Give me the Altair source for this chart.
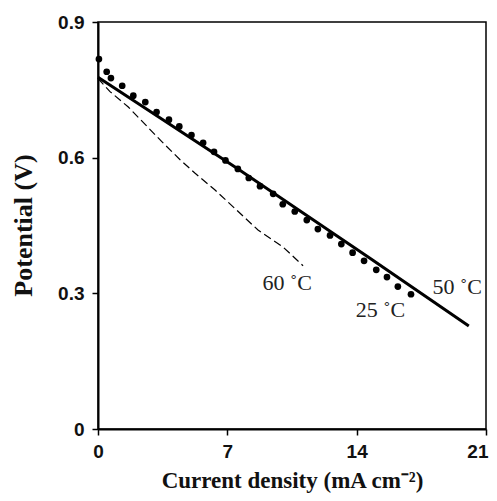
import altair as alt
import pandas as pd

# 25 °C measured points
dots_x = [0.05, 0.47, 0.7, 1.31, 1.91, 2.56, 3.17, 3.84, 4.40, 5.06, 5.69, 6.28, 6.9, 7.57,
          8.16, 8.77, 9.48, 10.0, 10.65, 11.3, 11.9, 12.56, 13.17, 13.78, 14.4, 15.06,
          15.64, 16.23, 16.94]
dots_v = [0.818, 0.790, 0.776, 0.759, 0.737, 0.723, 0.701, 0.684, 0.669, 0.650, 0.633,
          0.613, 0.594, 0.575, 0.555, 0.537, 0.520, 0.497, 0.481, 0.462, 0.442, 0.428,
          0.409, 0.390, 0.372, 0.352, 0.336, 0.315, 0.298]

# 50 °C solid line
solid_x = [0.0, 7.5, 14.7, 20.07]
solid_v = [0.778, 0.577, 0.378, 0.228]

# 60 °C dashed line
dash_x = [0.0, 0.65, 1.64, 3.44, 4.43, 5.24, 6.32, 7.4, 8.66, 10.0, 11.1]
dash_v = [0.775, 0.746, 0.712, 0.636, 0.596, 0.566, 0.529, 0.488, 0.440, 0.403, 0.361]

# curve labels
label_text = ["60 \u02daC", "25 \u02daC", "50 \u02daC"]
label_x = [8.9, 13.95, 18.1]
label_v = [0.323, 0.263, 0.315]

x_ticks = [0, 7, 14, 21]
y_ticks = [0, 0.3, 0.6, 0.9]

dots_df = pd.DataFrame({"x": dots_x, "v": dots_v})
solid_df = pd.DataFrame({"x": solid_x, "v": solid_v})
dash_df = pd.DataFrame({"x": dash_x, "v": dash_v})
lab_df = pd.DataFrame({"t": label_text, "x": label_x, "v": label_v})

xs = alt.Scale(domain=[0, 21], nice=False)
ys = alt.Scale(domain=[0, 0.9], nice=False)

xenc = alt.X("x:Q", scale=xs,
             axis=alt.Axis(values=x_ticks, title="Current density (mA cm\u207b\u00b2)",
                           titleFontSize=23, titleY=58, titleBaseline="alphabetic",
                           labelFlush=False,
                           labelAlign=alt.ExprRef(expr="datum.value == 21 ? 'right' : 'center'"),
                           labelOffset=alt.ExprRef(expr="datum.value == 21 ? 2 : 0")))
yenc = alt.Y("v:Q", scale=ys,
             axis=alt.Axis(values=y_ticks, title="Potential (V)",
                           titleFontSize=26, titleX=-75, titleY=203,
                           titleBaseline="middle", labelFlush=False,
                           labelExpr="datum.value == 0 ? '0' : format(datum.value, '.1f')"))

solid = alt.Chart(solid_df).mark_line(color="black", strokeWidth=3).encode(x=xenc, y=yenc)
dashed = alt.Chart(dash_df).mark_line(color="black", strokeWidth=1.2,
                                      strokeDash=[8, 4]).encode(x="x:Q", y="v:Q")
points = alt.Chart(dots_df).mark_circle(color="black", size=45, opacity=1).encode(
    x="x:Q", y="v:Q")
labels = alt.Chart(lab_df).mark_text(align="left", baseline="middle", font="Liberation Serif",
                                     fontSize=22, color="#222222").encode(
    x="x:Q", y="v:Q", text="t:N")

chart = alt.layer(solid, dashed, points, labels).properties(
    width=388, height=407,
    autosize=alt.AutoSizeParams(type="none"),
    padding={"left": 90, "top": 14, "right": 3, "bottom": 64},
).configure_view(
    stroke="black", strokeWidth=1.5
).configure_axis(
    grid=False, domainColor="black", domainWidth=2, tickColor="black", tickWidth=1.5,
    tickSize=6, labelFont="Liberation Sans", labelFontWeight="bold", labelFontSize=19,
    labelColor="#111111", titleFont="Liberation Serif", titleFontWeight="bold",
    titleColor="#111111"
).configure_axisX(
    labelPadding=7
).configure_axisY(
    labelPadding=8
)

chart.save("out.html", embed_options={"renderer": "svg", "actions": False})
